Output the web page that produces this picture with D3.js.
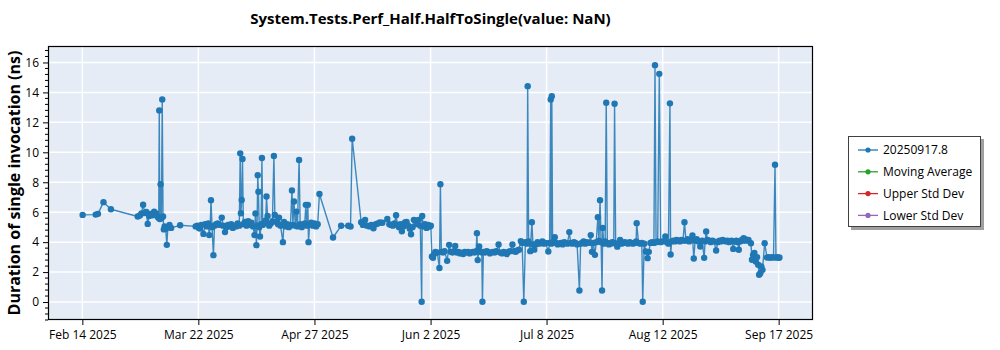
<!DOCTYPE html>
<html>
<head>
<meta charset="utf-8">
<script src="https://cdn.jsdelivr.net/npm/d3@7"></script>
<style>
  html, body { margin: 0; padding: 0; background: #ffffff; }
  svg { display: block; font-family: "Open Sans", "Noto Sans", sans-serif; }
</style>
</head>
<body>
<script>
const chartTitle = "System.Tests.Perf_Half.HalfToSingle(value: NaN)";
const yAxisTitle = "Duration of single invocation (ns)";
const seriesNames = ["20250917.8", "Moving Average", "Upper Std Dev", "Lower Std Dev"];
const seriesColors = ["#1f77b4", "#2ca02c", "#d62728", "#9467bd"];
const xTickDates = ["2025-02-14T11", "2025-03-22T08", "2025-04-27T06", "2025-06-02T04", "2025-07-08T01", "2025-08-12T23", "2025-09-17T20"];
const xTickLabels = ["Feb 14 2025", "Mar 22 2025", "Apr 27 2025", "Jun 2 2025", "Jul 8 2025", "Aug 12 2025", "Sep 17 2025"];
const xDomain = ["2025-02-03T20", "2025-09-28T11"];
const yDomain = [-1.2, 17.1];
const yTicks = [0, 2, 4, 6, 8, 10, 12, 14, 16];

// [run date, duration in ns]
const points = [
["2025-02-14T13",5.82],["2025-02-18T14",5.84],["2025-02-19T07",5.89],["2025-02-21T00",6.67],["2025-02-23T07",6.20],
["2025-03-03T14",5.71],["2025-03-04T06",5.78],["2025-03-04T18",5.92],["2025-03-05T06",6.50],["2025-03-05T18",5.95],
["2025-03-06T06",6.02],["2025-03-06T16",5.22],["2025-03-07T03",5.75],["2025-03-07T15",5.88],["2025-03-08T04",5.80],
["2025-03-08T16",6.04],["2025-03-09T06",5.92],["2025-03-09T18",5.70],["2025-03-10T02",5.62],["2025-03-10T06",12.80],
["2025-03-10T10",5.55],["2025-03-10T16",7.87],["2025-03-10T22",5.60],["2025-03-11T04",13.53],["2025-03-11T10",5.71],
["2025-03-11T16",4.85],["2025-03-11T22",5.05],["2025-03-12T06",4.90],["2025-03-12T14",3.82],["2025-03-12T22",5.00],
["2025-03-13T10",5.15],["2025-03-13T22",4.95],["2025-03-16T17",5.13],
["2025-03-21T12",5.05],["2025-03-22T00",5.10],["2025-03-22T12",4.95],["2025-03-22T19",4.91],["2025-03-23T06",5.15],
["2025-03-23T22",4.55],["2025-03-24T10",5.20],["2025-03-24T22",5.05],["2025-03-25T10",5.25],["2025-03-25T17",4.47],
["2025-03-26T00",5.10],["2025-03-26T06",6.80],["2025-03-26T14",5.00],["2025-03-27T00",3.13],["2025-03-27T08",5.10],
["2025-03-27T20",5.20],["2025-03-28T08",5.25],["2025-03-28T20",5.15],["2025-03-29T14",5.64],["2025-03-30T00",5.10],
["2025-03-30T14",4.67],["2025-03-31T00",5.00],["2025-03-31T12",5.15],
["2025-04-01T00",5.05],["2025-04-01T12",5.20],["2025-04-02T00",4.95],["2025-04-02T12",5.10],["2025-04-03T00",5.05],
["2025-04-03T12",5.25],["2025-04-04T00",5.10],["2025-04-04T07",9.93],["2025-04-04T12",5.93],["2025-04-04T18",6.82],
["2025-04-05T00",9.55],["2025-04-05T06",5.20],["2025-04-05T18",5.35],["2025-04-06T06",5.10],["2025-04-06T18",5.40],
["2025-04-07T06",5.15],["2025-04-07T18",5.30],["2025-04-08T06",5.05],["2025-04-08T17",4.47],["2025-04-09T00",5.91],
["2025-04-09T07",3.80],["2025-04-09T12",5.10],["2025-04-09T17",8.47],["2025-04-09T22",7.37],["2025-04-10T04",5.00],
["2025-04-10T10",4.38],["2025-04-10T18",5.20],["2025-04-11T00",9.62],["2025-04-11T06",5.15],["2025-04-11T18",5.30],
["2025-04-12T04",5.45],["2025-04-12T10",7.05],["2025-04-12T18",5.75],["2025-04-13T06",5.10],["2025-04-13T18",5.25],
["2025-04-14T06",5.40],["2025-04-14T17",9.75],["2025-04-15T00",5.82],["2025-04-15T12",5.35],["2025-04-16T00",5.20],
["2025-04-16T07",5.64],["2025-04-16T18",5.10],["2025-04-17T12",4.00],["2025-04-17T20",5.35],["2025-04-18T08",5.05],
["2025-04-18T20",5.20],["2025-04-19T08",5.00],["2025-04-19T20",5.10],["2025-04-20T07",7.45],["2025-04-20T14",5.15],
["2025-04-20T22",6.71],["2025-04-21T08",5.10],["2025-04-21T16",6.04],["2025-04-22T00",5.05],["2025-04-22T12",9.49],
["2025-04-22T20",5.20],["2025-04-23T08",5.00],["2025-04-23T20",5.15],["2025-04-24T06",5.25],["2025-04-24T14",6.49],
["2025-04-24T22",5.10],["2025-04-25T05",6.49],["2025-04-25T10",4.00],["2025-04-25T18",5.20],["2025-04-26T06",5.30],
["2025-04-26T18",5.10],["2025-04-27T06",5.25],["2025-04-27T18",5.05],["2025-04-28T06",5.20],["2025-04-28T19",7.22],
["2025-05-03T00",4.31],["2025-05-05T12",5.09],["2025-05-07T17",5.09],["2025-05-08T10",5.04],["2025-05-08T22",10.91],
["2025-05-11T17",5.33],["2025-05-12T06",5.15],["2025-05-12T22",5.49],["2025-05-13T12",5.10],["2025-05-14T06",5.05],
["2025-05-14T20",5.15],["2025-05-15T12",4.93],["2025-05-16T06",5.20],["2025-05-16T20",5.25],["2025-05-17T12",5.31],
["2025-05-18T06",5.30],["2025-05-19T19",5.55],["2025-05-20T10",5.20],["2025-05-20T22",5.15],["2025-05-21T12",5.10],
["2025-05-22T00",5.25],["2025-05-22T12",5.80],["2025-05-22T22",5.15],["2025-05-23T10",5.00],["2025-05-23T20",5.20],
["2025-05-24T07",4.73],["2025-05-24T18",5.05],["2025-05-25T06",5.31],["2025-05-25T18",5.35],["2025-05-26T06",5.10],
["2025-05-26T18",4.90],["2025-05-27T03",4.53],["2025-05-27T14",5.00],["2025-05-28T00",5.49],["2025-05-28T12",5.45],
["2025-05-29T00",5.20],["2025-05-29T12",5.49],["2025-05-30T00",5.10],["2025-05-30T10",0.02],["2025-05-30T14",5.75],
["2025-05-30T22",5.05],["2025-05-31T10",5.20],["2025-05-31T22",4.95],["2025-06-01T10",5.15],["2025-06-01T22",5.04],
["2025-06-02T06",5.10],
["2025-06-02T14",3.04],["2025-06-02T22",2.95],["2025-06-03T06",3.20],["2025-06-03T16",3.35],["2025-06-04T06",3.30],
["2025-06-04T22",2.27],["2025-06-05T05",7.87],["2025-06-05T12",3.35],["2025-06-06T00",3.30],["2025-06-06T12",3.40],
["2025-06-07T07",2.75],["2025-06-07T22",3.82],["2025-06-08T10",3.35],["2025-06-08T22",3.30],["2025-06-09T10",3.40],
["2025-06-09T19",3.75],["2025-06-10T06",3.30],["2025-06-10T18",3.35],["2025-06-11T06",3.25],["2025-06-11T18",3.30],
["2025-06-12T06",3.20],["2025-06-12T18",3.35],["2025-06-13T06",3.30],["2025-06-13T18",3.35],["2025-06-14T06",3.25],
["2025-06-14T18",3.30],["2025-06-15T06",3.35],["2025-06-15T18",3.30],["2025-06-16T06",3.40],["2025-06-16T12",4.60],
["2025-06-16T18",2.80],["2025-06-17T05",3.71],["2025-06-17T14",3.35],["2025-06-18T00",3.30],["2025-06-18T05",0.02],
["2025-06-18T12",3.35],["2025-06-19T00",3.30],["2025-06-19T12",3.40],["2025-06-20T00",3.35],["2025-06-20T12",3.25],
["2025-06-21T00",3.30],["2025-06-21T12",3.35],["2025-06-22T00",3.30],["2025-06-22T12",3.40],["2025-06-23T05",3.84],
["2025-06-23T16",3.30],["2025-06-24T06",3.25],["2025-06-24T18",3.35],["2025-06-25T06",3.30],["2025-06-25T18",3.20],
["2025-06-26T06",3.35],["2025-06-26T18",3.40],["2025-06-27T12",3.84],["2025-06-28T00",3.40],["2025-06-28T12",3.35],
["2025-06-29T00",3.45],["2025-06-29T12",3.50],["2025-06-30T02",4.07],["2025-06-30T12",3.95],["2025-07-01T00",0.02],
["2025-07-01T12",4.00],["2025-07-02T00",3.90],["2025-07-02T05",14.42],["2025-07-02T12",4.05],["2025-07-03T00",3.40],
["2025-07-03T12",5.33],["2025-07-03T20",3.85],["2025-07-04T06",3.50],["2025-07-04T18",3.85],["2025-07-05T06",4.00],
["2025-07-05T18",3.90],["2025-07-06T06",3.95],["2025-07-06T18",4.05],["2025-07-07T06",3.90],["2025-07-07T18",3.95],
["2025-07-08T14",3.37],["2025-07-09T00",3.95],["2025-07-09T08",13.53],["2025-07-09T12",3.90],["2025-07-09T16",13.75],
["2025-07-09T22",4.00],["2025-07-10T14",4.33],["2025-07-11T00",3.95],["2025-07-11T12",3.85],["2025-07-12T00",3.90],
["2025-07-12T12",3.95],["2025-07-13T00",3.85],["2025-07-13T12",4.00],["2025-07-14T00",3.95],["2025-07-14T12",3.90],
["2025-07-15T02",4.67],["2025-07-15T12",3.95],["2025-07-16T00",3.90],["2025-07-16T12",4.00],["2025-07-17T00",3.95],
["2025-07-17T12",3.85],["2025-07-18T05",0.77],["2025-07-18T14",3.90],["2025-07-19T00",3.95],["2025-07-19T12",4.05],
["2025-07-20T00",3.90],["2025-07-20T12",4.00],["2025-07-21T04",3.95],["2025-07-21T17",4.47],["2025-07-22T02",3.35],
["2025-07-22T12",3.95],["2025-07-23T00",3.15],["2025-07-23T10",4.00],["2025-07-23T22",5.67],["2025-07-24T06",4.10],
["2025-07-24T14",6.80],["2025-07-24T22",4.00],["2025-07-25T05",0.77],["2025-07-25T10",4.95],["2025-07-25T18",3.90],
["2025-07-26T04",4.05],["2025-07-26T12",13.31],["2025-07-26T20",3.95],["2025-07-27T08",3.85],["2025-07-27T20",3.90],
["2025-07-28T08",4.00],["2025-07-28T20",3.95],["2025-07-29T02",13.24],["2025-07-29T10",3.90],["2025-07-29T22",3.70],
["2025-07-30T10",3.95],["2025-07-30T19",4.15],["2025-07-31T06",3.90],["2025-07-31T18",3.95],
["2025-08-01T06",4.00],["2025-08-01T18",3.95],["2025-08-02T06",3.90],["2025-08-02T18",4.00],["2025-08-03T06",3.95],
["2025-08-03T18",3.90],["2025-08-04T06",3.95],["2025-08-04T18",4.05],["2025-08-04T22",5.27],["2025-08-05T12",3.95],
["2025-08-06T00",3.90],["2025-08-06T12",3.95],["2025-08-06T19",0.02],["2025-08-07T06",3.90],["2025-08-07T18",3.37],
["2025-08-08T07",2.93],["2025-08-08T16",3.35],["2025-08-09T04",3.95],["2025-08-09T16",4.00],["2025-08-10T06",3.95],
["2025-08-10T14",15.82],["2025-08-10T22",4.00],["2025-08-11T10",4.05],["2025-08-11T22",15.24],["2025-08-12T08",4.00],
["2025-08-12T20",4.05],["2025-08-13T19",4.38],["2025-08-14T06",4.00],["2025-08-14T18",3.90],["2025-08-15T05",13.27],
["2025-08-15T10",3.17],["2025-08-15T18",4.05],["2025-08-16T06",4.10],["2025-08-16T18",4.05],["2025-08-17T06",4.15],
["2025-08-17T18",4.10],["2025-08-18T06",4.05],["2025-08-18T18",4.15],["2025-08-19T06",4.10],["2025-08-19T17",5.33],
["2025-08-20T04",4.10],["2025-08-20T16",4.20],["2025-08-21T04",4.05],["2025-08-21T16",4.15],["2025-08-22T04",4.44],
["2025-08-22T14",2.91],["2025-08-23T00",4.10],["2025-08-23T12",4.20],["2025-08-24T00",4.05],["2025-08-24T14",3.71],
["2025-08-25T04",4.10],["2025-08-25T19",2.95],["2025-08-26T02",4.05],["2025-08-26T10",4.71],["2025-08-26T20",4.15],
["2025-08-27T08",4.10],["2025-08-27T20",4.00],["2025-08-28T08",4.10],["2025-08-28T20",4.05],["2025-08-29T12",3.44],
["2025-08-30T00",4.00],["2025-08-30T12",4.10],["2025-08-31T00",4.05],["2025-08-31T12",4.15],["2025-09-01T00",4.10],
["2025-09-01T12",4.05],["2025-09-02T00",4.10],["2025-09-02T12",4.00],["2025-09-03T06",4.10],["2025-09-03T19",3.55],
["2025-09-04T06",4.05],["2025-09-04T18",4.10],["2025-09-05T04",4.00],["2025-09-05T12",3.49],["2025-09-05T22",4.05],
["2025-09-06T10",4.15],["2025-09-06T22",4.10],["2025-09-07T00",4.27],["2025-09-07T12",4.20],["2025-09-08T00",4.10],
["2025-09-08T12",4.15],["2025-09-09T06",3.93],["2025-09-09T14",2.82],["2025-09-09T22",3.15],["2025-09-10T08",3.27],
["2025-09-10T18",2.71],["2025-09-11T04",3.00],["2025-09-11T12",2.49],["2025-09-11T19",1.82],["2025-09-12T04",1.93],
["2025-09-12T12",2.37],["2025-09-12T20",2.15],["2025-09-13T12",3.93],["2025-09-14T06",2.97],["2025-09-14T18",3.00],
["2025-09-15T06",2.95],["2025-09-15T18",3.00],["2025-09-16T06",2.97],["2025-09-16T17",9.17],["2025-09-17T00",2.97],
["2025-09-17T10",3.00],["2025-09-17T20",2.95],["2025-09-18T02",2.97]
];

const parse = d3.timeParse("%Y-%m-%dT%H");
const data = points.map(p => ({ date: parse(p[0]), value: p[1] }));

const W = 1000, H = 350;
const plot = { left: 48, top: 46, right: 813, bottom: 320 };

const svg = d3.select("body").append("svg").attr("width", W).attr("height", H);

const x = d3.scaleTime().domain(xDomain.map(parse)).range([plot.left, plot.right]);
const y = d3.scaleLinear().domain(yDomain).range([plot.bottom, plot.top]);

// plot background
svg.append("rect")
  .attr("x", plot.left).attr("y", plot.top)
  .attr("width", plot.right - plot.left).attr("height", plot.bottom - plot.top)
  .attr("fill", "#e5ecf6");

// gridlines
const tickDates = xTickDates.map(parse);
svg.append("g").selectAll("line").data(tickDates).join("line")
  .attr("x1", d => x(d)).attr("x2", d => x(d))
  .attr("y1", plot.top).attr("y2", plot.bottom)
  .attr("stroke", "#ffffff").attr("stroke-width", 1.5);
svg.append("g").selectAll("line").data(yTicks).join("line")
  .attr("x1", plot.left).attr("x2", plot.right)
  .attr("y1", d => y(d)).attr("y2", d => y(d))
  .attr("stroke", "#ffffff").attr("stroke-width", 1.5);

// data
svg.append("clipPath").attr("id", "clip").append("rect")
  .attr("x", plot.left).attr("y", plot.top)
  .attr("width", plot.right - plot.left).attr("height", plot.bottom - plot.top);
const g = svg.append("g").attr("clip-path", "url(#clip)");
const line = d3.line().x(d => x(d.date)).y(d => y(d.value));
g.append("path").datum(data)
  .attr("d", line).attr("fill", "none")
  .attr("stroke", seriesColors[0]).attr("stroke-width", 1.4).attr("stroke-opacity", 0.85)
  .attr("stroke-linejoin", "round");
g.append("g").selectAll("circle").data(data).join("circle")
  .attr("cx", d => x(d.date)).attr("cy", d => y(d.value)).attr("r", 3.2)
  .attr("fill", seriesColors[0]);

// axes
const xAxis = d3.axisBottom(x).tickValues(tickDates)
  .tickFormat((d, i) => xTickLabels[i]).tickSize(5).tickSizeOuter(0);
const gx = svg.append("g").attr("transform", `translate(0,${plot.bottom})`).call(xAxis);
gx.select(".domain").remove();
gx.selectAll("text").attr("font-size", 12).attr("fill", "#000").attr("dy", "0.95em")
  .style("font-family", "'Open Sans', sans-serif");
gx.selectAll("line").attr("stroke", "#000");

const yMinor = d3.range(-1.2, 17.1, 0.4).map(v => Math.round(v * 10) / 10).filter(v => !yTicks.includes(v));
svg.append("g").selectAll("line").data(yMinor).join("line")
  .attr("x1", plot.left - 3).attr("x2", plot.left)
  .attr("y1", d => y(d)).attr("y2", d => y(d))
  .attr("stroke", "#000");

const yAxis = d3.axisLeft(y).tickValues(yTicks).tickSize(5).tickSizeOuter(0);
const gy = svg.append("g").attr("transform", `translate(${plot.left},0)`).call(yAxis);
gy.select(".domain").remove();
gy.selectAll("text").attr("font-size", 12).attr("fill", "#000").attr("x", -9)
  .style("font-family", "'Open Sans', sans-serif");
gy.selectAll("line").attr("stroke", "#000");

// border
svg.append("rect")
  .attr("x", plot.left + 0.5).attr("y", plot.top + 0.5)
  .attr("width", plot.right - plot.left - 1).attr("height", plot.bottom - plot.top - 1)
  .attr("fill", "none").attr("stroke", "#000").attr("stroke-width", 1.2);

// titles
svg.append("text")
  .attr("x", (plot.left + plot.right) / 2).attr("y", 24)
  .attr("text-anchor", "middle").attr("font-size", 15).attr("font-weight", "bold")
  .text(chartTitle);
svg.append("text")
  .attr("transform", `translate(20,${(plot.top + plot.bottom) / 2}) rotate(-90)`)
  .attr("text-anchor", "middle").attr("font-size", 16).attr("font-weight", "bold")
  .text(yAxisTitle);

// legend
const lg = svg.append("g").attr("transform", "translate(848,136)");
lg.append("rect").attr("x", 3).attr("y", 3).attr("width", 133).attr("height", 91).attr("fill", "#a0a0a0");
lg.append("rect").attr("x", 0.5).attr("y", 0.5).attr("width", 132).attr("height", 90)
  .attr("fill", "#ffffff").attr("stroke", "#404040").attr("stroke-width", 1);
seriesNames.forEach((name, i) => {
  const row = lg.append("g").attr("transform", `translate(0,${14 + i * 21.8})`);
  row.append("line").attr("x1", 10).attr("x2", 30).attr("y1", 0).attr("y2", 0)
    .attr("stroke", seriesColors[i]).attr("stroke-width", 1.3);
  row.append("circle").attr("cx", 20).attr("cy", 0).attr("r", 2.6).attr("fill", seriesColors[i]);
  row.append("text").attr("x", 35).attr("y", 0).attr("dy", "0.35em")
    .attr("font-size", 12).attr("fill", "#000").text(name);
});
</script>
</body>
</html>
